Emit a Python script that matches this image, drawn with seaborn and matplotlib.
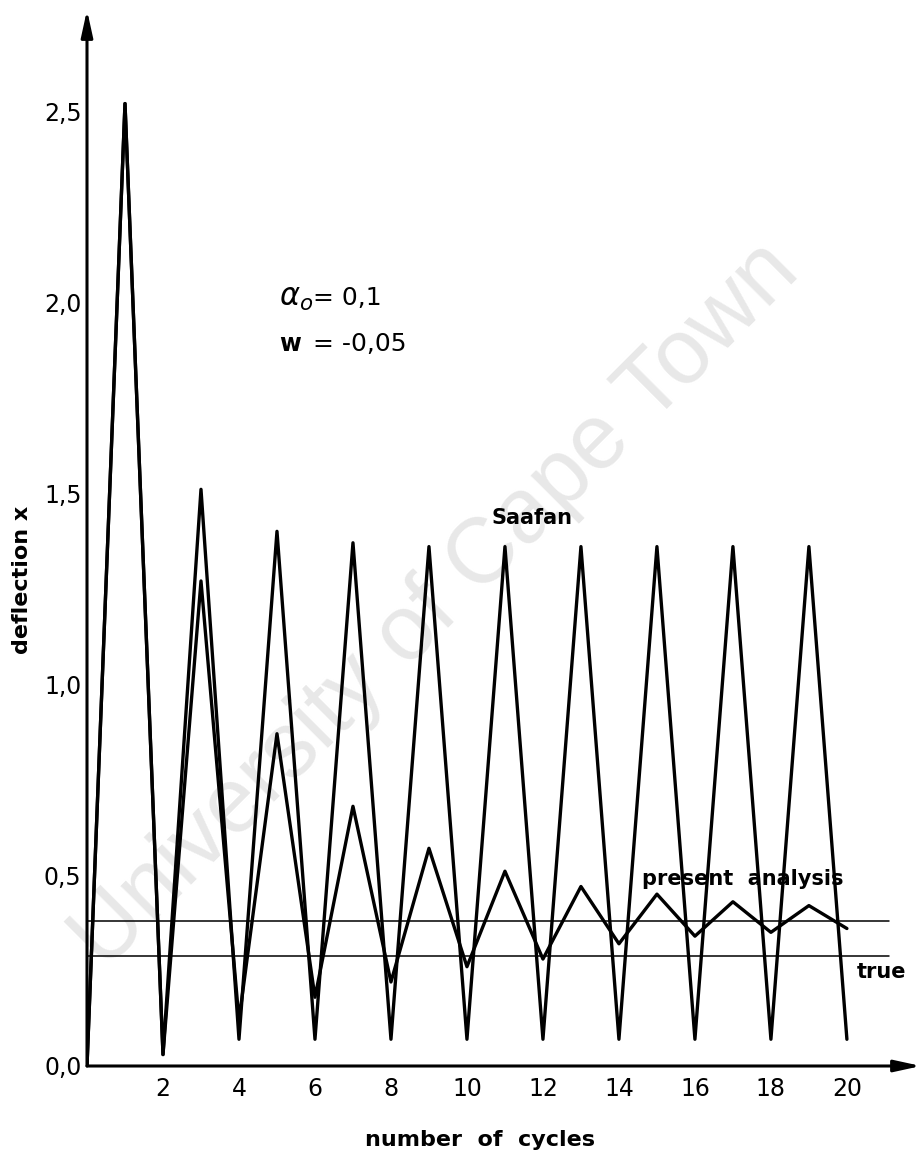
import matplotlib
matplotlib.use("Agg")
import matplotlib.pyplot as plt
import seaborn as sns
import pandas as pd

# values
cycles = list(range(21))
saafan = [0.0, 2.52, 0.03, 1.51, 0.07, 1.40, 0.07, 1.37, 0.07, 1.36, 0.07,
          1.36, 0.07, 1.36, 0.07, 1.36, 0.07, 1.36, 0.07, 1.36, 0.07]
present = [0.0, 2.52, 0.03, 1.27, 0.12, 0.87, 0.18, 0.68, 0.22, 0.57, 0.26,
           0.51, 0.28, 0.47, 0.32, 0.45, 0.34, 0.43, 0.35, 0.42, 0.36]
ref_lines = [0.38, 0.288]   # upper reference line, "true" line
ref_end = 21.1

xticks = [2, 4, 6, 8, 10, 12, 14, 16, 18, 20]
xtick_labels = ["2", "4", "6", "8", "10", "12", "14", "16", "18", "20"]
yticks = [0.0, 0.5, 1.0, 1.5, 2.0, 2.5]
ytick_labels = ["0,0", "0,5", "1,0", "1,5", "2,0", "2,5"]

sns.set_style("white")
plt.rcParams['font.family'] = ['DejaVu Sans']
plt.rcParams['text.color'] = 'black'
plt.rcParams['xtick.color'] = 'black'
plt.rcParams['ytick.color'] = 'black'

df = pd.DataFrame({"cycle": cycles * 2,
                   "x": saafan + present,
                   "series": ["Saafan"] * len(cycles) + ["present analysis"] * len(cycles)})

fig = plt.figure(figsize=(9.22, 11.61), dpi=100)
ax = fig.add_axes([87 / 922, 1 - 1066 / 1161, (921 - 87) / 922, (1066 - 10) / 1161])

sns.lineplot(data=df, x="cycle", y="x", units="series", estimator=None,
             color="black", lw=2.4, ax=ax, zorder=3)
for yv in ref_lines:
    ax.plot([0, ref_end], [yv, yv], color="black", lw=1.1, zorder=2)

ax.set_xlim(0, 21.95)
ax.set_ylim(0, 2.765)

for s in ax.spines.values():
    s.set_visible(False)

# axes with arrow heads
arrow = dict(arrowstyle="-|>,head_length=1.6,head_width=0.35", color="black",
             lw=2.2, shrinkA=0, shrinkB=0)
ax.annotate("", xy=(1, 0), xytext=(0, 0), xycoords="axes fraction",
            textcoords="axes fraction", arrowprops=arrow, annotation_clip=False)
ax.annotate("", xy=(0, 1), xytext=(0, 0), xycoords="axes fraction",
            textcoords="axes fraction", arrowprops=arrow, annotation_clip=False)

ax.set_xticks(xticks)
ax.set_xticklabels(xtick_labels)
ax.set_yticks(yticks)
ax.set_yticklabels(ytick_labels)
ax.tick_params(axis="y", direction="in", length=17, width=2, labelsize=17, pad=4)
ax.tick_params(axis="x", direction="in", length=11, width=2, labelsize=17, pad=8)
ax.set_xlabel("")
ax.set_ylabel("")

fig.text(480 / 922, 1 - 1140 / 1161, "number  of  cycles", fontsize=16,
         fontweight="bold", ha="center", va="center")
fig.text(22 / 922, 1 - 580 / 1161, "deflection x", fontsize=16, fontweight="bold",
         rotation=90, ha="center", va="center")

ax.text(5.05, 2.01, r"$\alpha_o$", fontsize=22, va="center", ha="left", zorder=4)
ax.text(5.95, 2.01, "= 0,1", fontsize=18, va="center", ha="left", zorder=4)
ax.text(5.05, 1.89, "w", fontsize=17, fontweight="bold", va="center", ha="left", zorder=4)
ax.text(5.95, 1.89, "= -0,05", fontsize=18, va="center", ha="left", zorder=4)

ax.text(11.7, 1.435, "Saafan", fontsize=15, fontweight="bold", ha="center",
        va="center", zorder=4)
ax.text(17.25, 0.49, "present  analysis", fontsize=15, fontweight="bold",
        ha="center", va="center", zorder=4)
ax.text(20.9, 0.245, "true", fontsize=15, fontweight="bold", ha="center",
        va="center", zorder=4)

# scan watermark, behind the lines and labels
ax.text(0.473, 0.478, "University of Cape Town", fontsize=66, color="#e8e8e8",
        family="Liberation Sans", rotation=45, ha="center", va="center",
        transform=fig.transFigure, zorder=0)

fig.savefig("out.png", dpi=100)
